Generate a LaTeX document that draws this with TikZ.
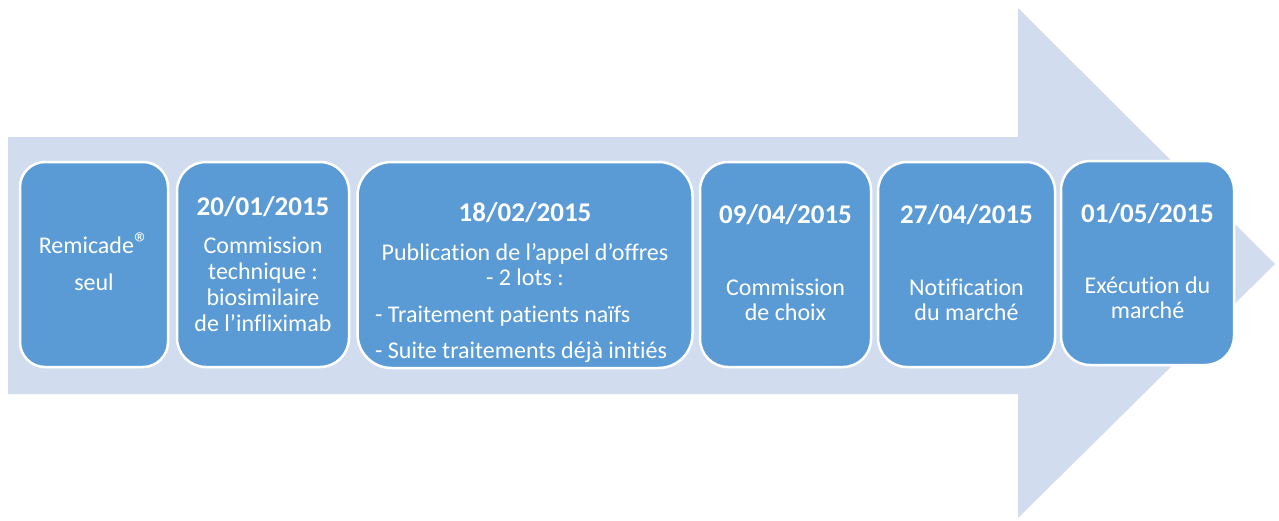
\documentclass[tikz,border=0pt]{standalone}
\usepackage{fontspec}
\setmainfont{Carlito}[RawFeature={-liga;-clig;-calt;-dlig}]
\definecolor{arrowblue}{HTML}{D1DDEF}
\definecolor{boxblue}{HTML}{5B9BD5}
\tikzset{
  stagebox/.style={draw=white, line width=2.5pt, fill=boxblue, inner sep=0pt},
  txt/.style={text=white, font=\fontsize{24}{26}\selectfont, inner sep=0pt, anchor=base},
  datetxt/.style={text=white, font=\fontsize{27}{30}\selectfont\bfseries, inner sep=0pt, anchor=base},
  listtxt/.style={text=white, font=\fontsize{24}{26}\selectfont, inner sep=0pt, anchor=base west}
}
\begin{document}
\begin{tikzpicture}[x=1pt,y=-1pt]
\useasboundingbox (0,0) rectangle (1279,520);
% big arrow
\fill[arrowblue] (8,137) -- (1018,137) -- (1018,8) -- (1275,264) -- (1018,518) -- (1018,394) -- (8,394) -- cycle;
% boxes
\node[stagebox, rounded corners=25pt, minimum width=148pt, minimum height=205pt] (b1) at (94,264.5) {};
\node[stagebox, rounded corners=29pt, minimum width=172pt, minimum height=205pt] (b2) at (263,264.5) {};
\node[stagebox, rounded corners=34pt, minimum width=335pt, minimum height=206pt] (b3) at (525,265) {};
\node[stagebox, rounded corners=28pt, minimum width=171pt, minimum height=205pt] (b4) at (785.5,264.5) {};
\node[stagebox, rounded corners=29pt, minimum width=177pt, minimum height=205pt] (b5) at (966.5,264.5) {};
\node[stagebox, rounded corners=29pt, minimum width=173pt, minimum height=204pt] (b6) at (1147.5,263) {};
% box 1
\node[txt] (t1a) at (94,253) {Remicade{\fontsize{30}{30}\selectfont ®}};
\node[txt] (t1b) at (94,290) {seul};
% box 2
\node[datetxt] (d2) at (263,215) {20/01/2015};
\node[txt] (t2a) at (263,253) {Commission};
\node[txt] (t2b) at (263,279) {technique :};
\node[txt] (t2c) at (263,305) {biosimilaire};
\node[txt] (t2d) at (263,331) {de l’infliximab};
% box 3
\node[datetxt] (d3) at (525,221) {18/02/2015};
\node[txt] (t3a) at (525,260) {Publication de l’appel d’offres};
\node[txt] (t3b) at (525,285) {- 2 lots :};
\node[listtxt] (t3c) at (375,322) {- Traitement patients naïfs};
\node[listtxt] (t3d) at (375,358) {- Suite traitements déjà initiés};
% box 4
\node[datetxt] (d4) at (785.5,223) {09/04/2015};
\node[txt] (t4a) at (785.5,295) {Commission};
\node[txt] (t4b) at (785.5,320) {de choix};
% box 5
\node[datetxt] (d5) at (966.5,223) {27/04/2015};
\node[txt] (t5a) at (966.5,295) {Notification};
\node[txt] (t5b) at (966.5,320) {du marché};
% box 6
\node[datetxt] (d6) at (1147.5,222) {01/05/2015};
\node[txt] (t6a) at (1147.5,293) {Exécution du};
\node[txt] (t6b) at (1147.5,318) {marché};
\end{tikzpicture}
\end{document}
